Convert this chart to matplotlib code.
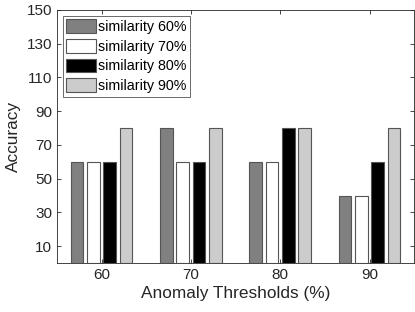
import matplotlib
matplotlib.use("Agg")
import matplotlib.pyplot as plt
import numpy as np

plt.rcParams['font.family'] = ['Liberation Sans', 'DejaVu Sans']

thresholds = [60, 70, 80, 90]
series_labels = ['similarity 60%', 'similarity 70%', 'similarity 80%', 'similarity 90%']
sim60 = [60, 80, 60, 40]
sim70 = [60, 60, 60, 40]
sim80 = [60, 60, 80, 60]
sim90 = [80, 80, 80, 80]
colors = ['#808080', '#ffffff', '#000000', '#cccccc']
yticks = [10, 30, 50, 70, 90, 110, 130, 150]

fig = plt.figure(figsize=(4.15, 3.12), dpi=100)
ax = fig.add_axes([0.137, 0.157, 0.861, 0.811])

data = [sim60, sim70, sim80, sim90]
x = np.array(thresholds, dtype=float)
step = 1.83
width = 1.44
for i, (vals, lab, c) in enumerate(zip(data, series_labels, colors)):
    ax.bar(x + (i - 1.5) * step, vals, width=width, color=c, edgecolor='#555555',
           linewidth=0.8, label=lab)

ax.set_xlim(55, 95)
ax.set_ylim(0, 150)
ax.set_xticks(thresholds)
ax.set_yticks(yticks)
ax.tick_params(direction='in', top=True, right=True, labelsize=11, colors='#262626',
               length=3, width=0.6)
for s in ax.spines.values():
    s.set_color('#262626')
    s.set_linewidth(0.6)
ax.set_xlabel('Anomaly Thresholds (%)', fontsize=12.4, color='#262626', labelpad=3)
ax.set_ylabel('Accuracy', fontsize=12.4, color='#262626')

leg = ax.legend(loc='upper left', fontsize=10.3, frameon=True, fancybox=False,
                handlelength=2.1, handleheight=1.1, handletextpad=0.1,
                labelspacing=0.35, borderpad=0.25, borderaxespad=0.4)
leg.get_frame().set_edgecolor('#262626')
leg.get_frame().set_linewidth(0.6)

fig.savefig('out.png', dpi=100)
